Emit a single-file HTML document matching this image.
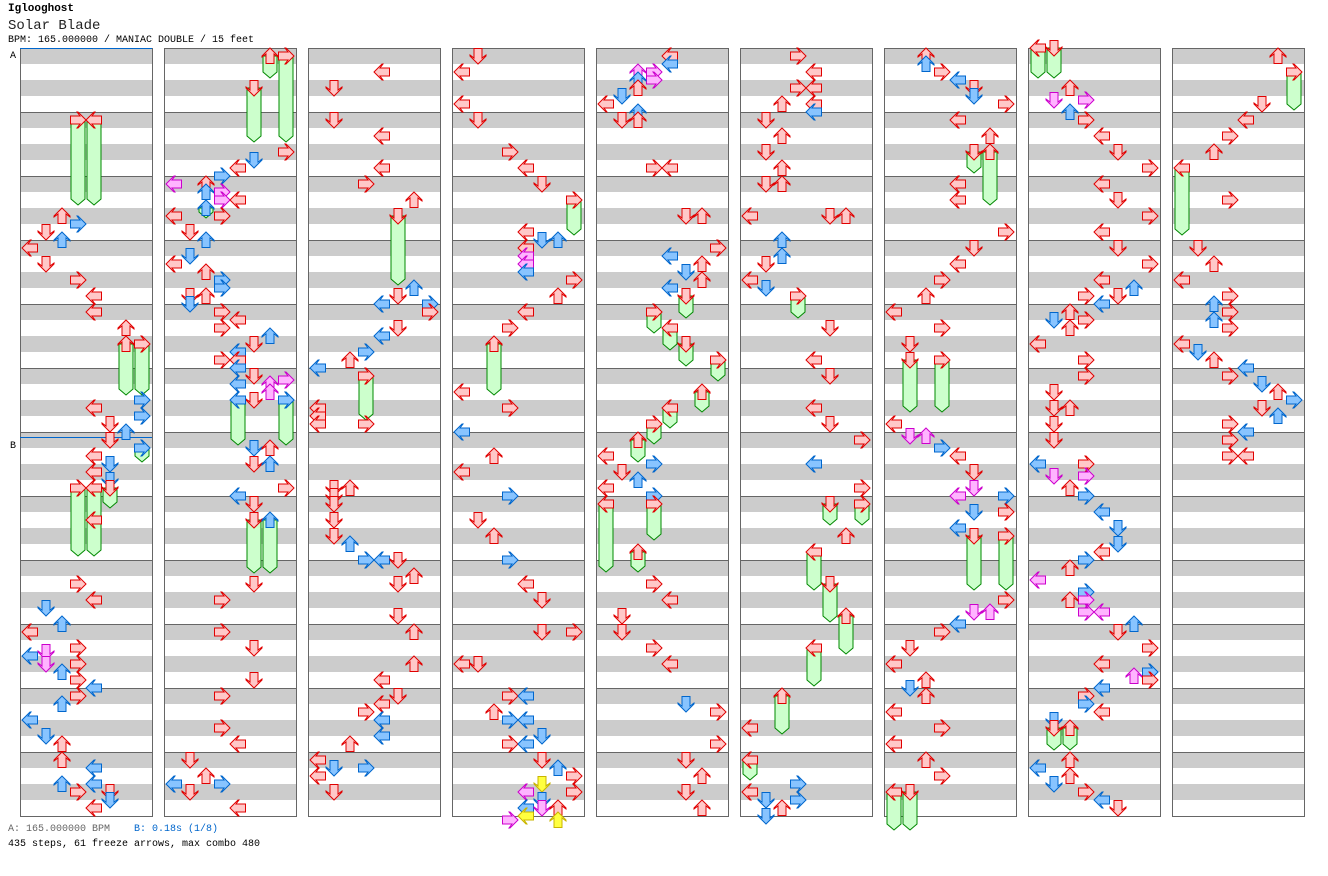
<!DOCTYPE html>
<html><head><meta charset="utf-8">
<style>
body{margin:0;background:#fff;width:1328px;height:876px;overflow:hidden;position:relative;font-family:"Liberation Mono",monospace;}
.t{position:absolute;left:8px;white-space:pre;}
</style></head><body>
<div class="t" style="top:3px;font-size:11px;font-weight:bold;color:#000">Iglooghost</div>
<div class="t" style="top:18px;font-size:14px;color:#222">Solar Blade</div>
<div class="t" style="top:35px;font-size:10px;color:#000">BPM: 165.000000 / MANIAC DOUBLE / 15 feet</div>
<div class="t" style="top:824px;font-size:10px;color:#666">A: 165.000000 BPM    <span style="color:#0066cc">B: 0.18s (1/8)</span></div>
<div class="t" style="top:839px;font-size:10px;color:#000">435 steps, 61 freeze arrows, max combo 480</div>
<svg id="s" width="1328" height="876" style="position:absolute;left:0;top:0" xmlns="http://www.w3.org/2000/svg"></svg>
<script>
const C={r:['#ffc8c8','#e00000'],b:['#88c4ff','#0066cc'],p:['#ffb4ff','#cc00cc'],y:['#ffff40','#c8b400']};
const D=[
"F3,120,205 F4,120,205 2,216,r 1,232,r 3,224,b 2,240,b 0,248,r 1,264,r 3,280,r 4,296,r 4,312,r 6,328,r F6,344,395 F7,344,395 4,408,r 7,400,b 7,416,b 5,424,r 6,432,b 5,440,r F7,448,462,b 4,456,r 5,464,b 4,472,r 5,480,b F5,488,508 F3,488,556 F4,488,556 4,520,r 3,584,r 4,600,r 1,608,b 2,624,b 0,632,r 3,648,r 0,656,b 1,652,p 1,664,p 2,672,b 3,664,r 3,680,r 4,688,b 2,704,b 3,696,r 0,720,b 1,736,b 2,744,r 2,760,r 4,768,b 2,784,b 3,792,r 4,784,b 5,792,r 5,800,b 4,808,r",
"F6,56,78 F7,56,142 F5,88,142 7,152,r 5,160,b 4,168,r 3,176,b 0,184,p 2,184,r 2,192,b 3,192,p 3,200,p 4,200,r F2,208,218,b 0,216,r 3,216,r 1,232,r 2,240,b 1,256,b 0,264,r 2,272,r 3,280,b 3,288,b 1,296,r 2,296,r 1,304,b 3,312,r 4,320,r 3,328,r 6,336,b 5,344,r 4,352,b 3,360,r 4,360,r 4,368,b 5,376,r 4,384,b 6,384,p 7,380,p 6,392,p 5,400,r 7,400,b F4,400,445,b F7,400,445,b 5,448,b 6,448,r 5,464,r 6,464,b 7,488,r 4,496,b 5,504,r F5,520,573 F6,520,573,b 5,584,r 3,600,r 3,632,r 5,648,r 5,680,r 3,696,r 3,728,r 4,744,r 1,760,r 2,776,r 3,784,b 0,784,b 1,792,r 4,808,r",
"4,72,r 1,88,r 1,120,r 4,136,r 4,168,r 3,184,r 6,200,r F5,216,285 6,288,b 5,296,r 4,304,b 7,304,b 7,312,r 5,328,r 4,336,b 3,352,b 2,360,r 0,368,b F3,376,420 0,408,r 0,416,r 0,424,r 3,424,r 1,488,r 2,488,r 1,496,r 1,504,r 1,520,r 1,536,r 2,544,b 3,560,b 4,560,b 5,560,r 6,576,r 5,584,r 5,616,r 6,632,r 6,664,r 4,680,r 5,696,r 4,704,r 3,712,r 4,720,b 4,736,b 2,744,r 0,760,r 1,768,b 0,776,r 3,768,b 1,792,r",
"1,56,r 0,72,r 0,104,r 1,120,r 3,152,r 4,168,r 5,184,r F7,200,235 4,232,r 4,248,r 5,240,b 6,240,b 4,256,p 4,264,p 4,272,b 7,280,r 6,296,r 4,312,r 3,328,r F2,344,395 0,392,r 3,408,r 0,432,b 2,456,r 0,472,r 3,496,b 1,520,r 2,536,r 3,560,b 4,584,r 5,600,r 5,632,r 7,632,r 0,664,r 1,664,r 3,696,r 4,696,b 2,712,r 3,720,b 4,720,b 3,744,r 4,744,b 5,736,b 6,768,b 5,760,r 7,776,r 5,784,y 4,792,p 5,800,b 7,792,r 4,808,b 5,808,p 6,808,r 4,816,y 3,820,p 6,820,y",
"4,56,r 4,64,b 2,72,p 3,72,p 3,80,p 2,80,b 2,88,r 1,96,b 0,104,r 2,112,b 1,120,r 2,120,r 3,168,r 4,168,r 5,216,r 6,216,r 7,248,r 4,256,b 6,264,r 5,272,b 6,280,r 4,288,b F5,296,318 F3,312,333 F4,328,350 F5,344,366 F7,360,381 F6,392,412 F4,408,428 F3,424,444 F2,440,462 0,456,r 1,472,r 3,464,b 2,480,b 0,488,r 3,496,b F0,504,572 F3,504,540 F2,552,572 3,584,r 4,600,r 1,616,r 1,632,r 3,648,r 4,664,r 5,704,b 7,712,r 7,744,r 5,760,r 6,776,r 5,792,r 6,808,r",
"3,56,r 4,72,r 3,88,r 4,88,r 2,104,r 4,104,r 4,112,b 1,120,r 2,136,r 1,152,r 2,168,r 1,184,r 2,184,r 5,216,r 6,216,r 0,216,r 2,240,b 2,256,b 1,264,r 0,280,r 1,288,b F3,296,318 5,328,r 4,360,r 5,376,r 4,408,r 5,424,r 7,440,r 4,464,b 7,488,r F5,504,525 F7,504,525 6,536,r F4,552,590 F5,584,622 F6,616,654 F4,648,686 F2,696,734 0,728,r F0,760,780 0,792,r 1,800,b 2,808,r 1,816,b 3,784,b 3,800,b",
"2,56,r 2,64,b 3,72,r 4,80,b 5,88,r 5,96,b 7,104,r 4,120,r 6,136,r F5,152,173 F6,152,205 4,184,r 4,200,r 7,232,r 5,248,r 4,264,r 3,280,r 2,296,r 0,312,r 1,344,r 3,328,r F1,360,412 F3,360,412 0,424,r 1,436,p 2,436,p 3,448,b 4,456,r 5,472,r 5,488,p 4,496,p 7,496,b 5,512,b 7,512,r 4,528,b F5,536,590 F7,536,590 7,600,r 5,612,p 6,612,p 4,624,b 3,632,r 1,648,r 0,664,r 1,688,b 2,680,r 2,696,r 0,712,r 3,728,r 0,744,r 2,760,r 3,776,r F0,792,830 F1,792,830",
"F0,48,78 F1,48,78 2,88,r 1,100,p 3,100,p 2,112,b 3,120,r 4,136,r 5,152,r 7,168,r 4,184,r 5,200,r 7,216,r 4,232,r 5,248,r 7,264,r 4,280,r 3,296,r 6,288,b 4,304,b 5,296,r 1,320,b 2,312,r 3,320,r 2,328,r 0,344,r 3,360,r 3,376,r 1,392,r 1,408,r 2,408,r 1,424,r 1,440,r 0,464,b 3,464,r 1,476,p 3,476,p 2,488,r 3,496,b 4,512,b 5,528,b 5,544,b 4,552,r 3,560,b 2,568,r 0,580,p 3,592,b 3,600,p 2,600,r 4,612,p 3,612,p 6,624,b 5,632,r 7,648,r 4,664,r 6,676,p 7,672,b 7,680,r 4,688,b 3,696,r 3,704,b 4,712,r 1,720,b F1,728,750 F2,728,750 0,768,b 2,760,r 2,776,r 3,792,r 1,784,b 4,800,b 5,808,r",
"6,56,r F7,72,110 5,104,r 4,120,r 3,136,r 2,152,r F0,168,235 3,200,r 1,248,r 2,264,r 0,280,r 3,296,r 3,312,r 3,328,r 2,304,b 2,320,b 0,344,r 1,352,b 2,360,r 4,368,b 5,384,b 6,392,r 7,400,b 6,416,b 5,408,r 3,376,r 3,424,r 4,432,b 3,440,r 3,456,r 4,456,r"
];
let h='';
for(let i=0;i<9;i++){const x0=20+144*i;
 h+=`<rect x="${x0}" y="48" width="132" height="768" fill="#fff"/>`;
 for(let m=0;m<12;m++){h+=`<rect x="${x0}" y="${48+m*64}" width="132" height="16" fill="#cccccc"/><rect x="${x0}" y="${80+m*64}" width="132" height="16" fill="#cccccc"/>`;
  h+=`<line x1="${x0}" y1="${48+m*64+.5}" x2="${x0+132}" y2="${48+m*64+.5}" stroke="#666"/>`;}
 h+=`<rect x="${x0+.5}" y="48.5" width="132" height="768" fill="none" stroke="#666"/>`;}
h+=`<line x1="20" y1="48.5" x2="152" y2="48.5" stroke="#0066cc"/><text x="10" y="58" font-size="10" font-family="Liberation Mono" fill="#000">A</text>`;
h+=`<line x1="20" y1="437.5" x2="152" y2="437.5" stroke="#0066cc"/><text x="10" y="448" font-size="10" font-family="Liberation Mono" fill="#000">B</text>`;
const rot=[-90,180,0,90];
function arrow(cx,cy,lane,c){const [f,s]=C[c]||C.r;
 return `<polygon transform="translate(${cx},${cy}) rotate(${rot[lane%4]})" points="0,-8 8,0 8,1 4,-2 4,7.5 -4,7.5 -4,-2 -8,1 -8,0" fill="${f}" stroke="${s}" stroke-width="1"/>`;}
let fr='',ar='';
D.forEach((str,i)=>{const x0=20+144*i;
 str.split(' ').forEach(t=>{if(!t)return;
  if(t[0]=='F'){const p=t.slice(1).split(',');const l=+p[0],y1=+p[1],y2=+p[2],c=p[3]||'r';const cx=x0+10+16*l;
   fr+=`<polygon points="${cx-7},${y1} ${cx+7},${y1} ${cx+7},${y2-6} ${cx},${y2} ${cx-7},${y2-6}" fill="#ccffcc" stroke="#008800"/>`;
   ar+=arrow(cx,y1,l,c);}
  else{const p=t.split(',');const l=+p[0];ar+=arrow(x0+10+16*l,+p[1],l,p[2]);}
 });});
document.getElementById('s').innerHTML=h+fr+ar;
</script>
</body></html>
